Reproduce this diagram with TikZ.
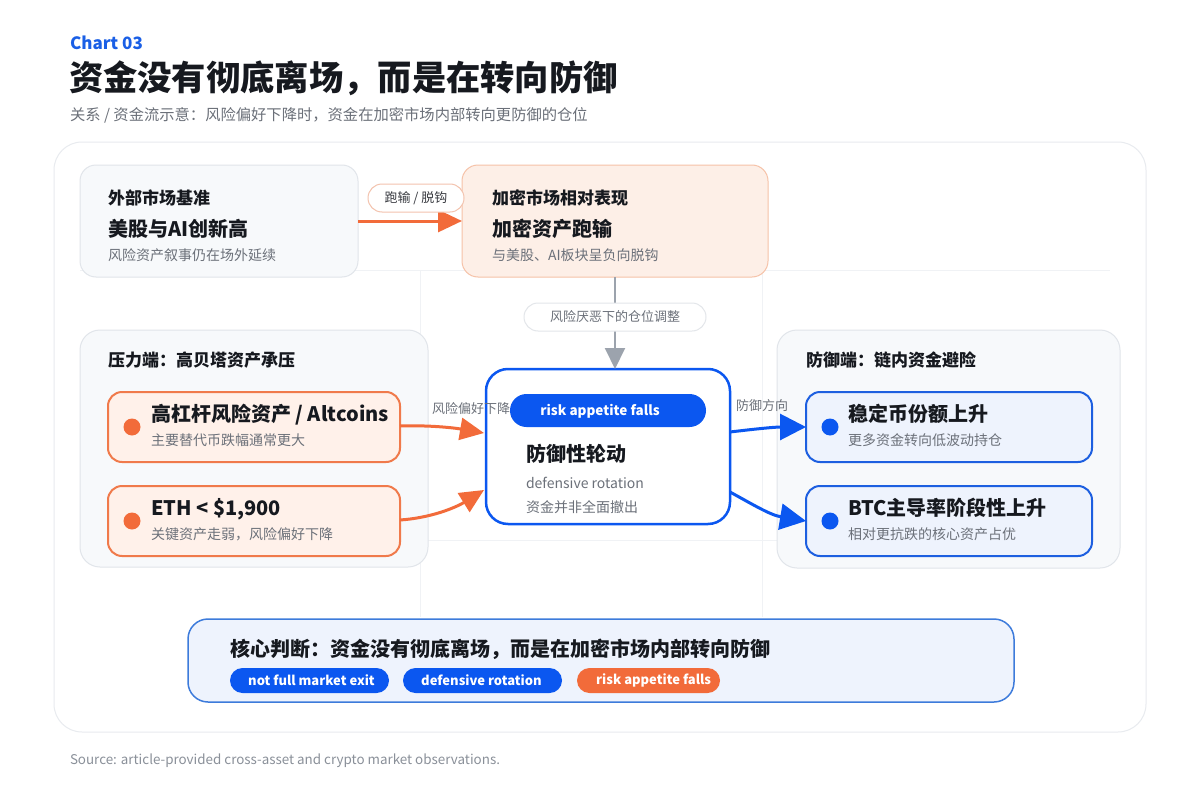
\documentclass[tikz,border=0pt]{standalone}
\usepackage{fontspec}
\setmainfont{Noto Sans CJK SC}
\usetikzlibrary{arrows.meta,calc}
\newcommand{\fz}[1]{\fontsize{#1}{#1}\selectfont}
\definecolor{cblue}{HTML}{0B57F0}
\definecolor{chartblue}{HTML}{1A5FE6}
\definecolor{corange}{HTML}{F26B3A}
\definecolor{cdark}{HTML}{16191F}
\definecolor{cgray}{HTML}{6B7079}
\definecolor{csrc}{HTML}{8A9099}
\definecolor{panelfill}{HTML}{F7F9FB}
\definecolor{panelborder}{HTML}{E1E5EA}
\definecolor{outerborder}{HTML}{E8EBEF}
\definecolor{ofill}{HTML}{FFF1EA}
\definecolor{oborder}{HTML}{F07A4B}
\definecolor{trfill}{HTML}{FDEFE7}
\definecolor{trborder}{HTML}{F6C2A8}
\definecolor{bfill}{HTML}{EEF3FD}
\definecolor{bborder}{HTML}{1D5FE0}
\definecolor{botborder}{HTML}{3D7BDB}
\definecolor{agray}{HTML}{9CA3AD}
\definecolor{pillgray}{HTML}{E3E6EA}
\definecolor{pillorange}{HTML}{F3C3AE}
\definecolor{gridc}{HTML}{F0F2F5}
\begin{document}
\begin{tikzpicture}[x=1pt,y=-1pt,
  box/.style={inner sep=0pt, outer sep=0pt, anchor=north west},
  grp/.style={box, draw=panelborder, fill=panelfill, line width=1pt, rounded corners=20pt},
  obox/.style={box, draw=oborder, fill=ofill, line width=2pt, rounded corners=14pt},
  bbox/.style={box, draw=bborder, fill=bfill, line width=2pt, rounded corners=14pt},
  txt/.style={inner sep=0pt, outer sep=0pt, anchor=base west},
  hdr/.style={txt, font=\fz{17}\bfseries, text=cdark},
  ttl/.style={txt, font=\fz{20}\bfseries, text=cdark},
  sub/.style={txt, font=\fz{14}, text=cgray},
  lbl/.style={txt, font=\fz{13}, text=cgray},
  odot/.style={circle, fill=corange, minimum size=17pt, inner sep=0pt},
  bdot/.style={circle, fill=cblue, minimum size=17pt, inner sep=0pt},
  oarrow/.style={draw=corange, line width=3pt, -{Triangle[length=24pt,width=22pt]}},
  barrow/.style={draw=cblue, line width=3pt, -{Triangle[length=26pt,width=26pt]}},
  garrow/.style={draw=agray, line width=2pt, -{Triangle[length=21pt,width=20pt]}},
  tagpill/.style={box, rounded corners=12.5pt, minimum height=25pt},
]
\useasboundingbox (0,0) rectangle (1200,800);
\fill[white] (0,0) rectangle (1200,800);

% header
\node[txt, font=\fz{17}\bfseries, text=chartblue] (chart) at (70,50) {Chart 03};
\node[txt, font=\fz{34.3}\bfseries, text=cdark] (title) at (69,90.6) {资金没有彻底离场，而是在转向防御};
\node[txt, font=\fz{15.3}, text=cgray] (subtitle) at (70,120.6) {关系 / 资金流示意：风险偏好下降时，资金在加密市场内部转向更防御的仓位};

% outer panel
\node[box, draw=outerborder, fill=white, line width=1pt, rounded corners=28pt, minimum width=1092pt, minimum height=590pt] (outer) at (54,142) {};

% faint grid
\draw[gridc, line width=1pt] (80,270) -- (1110,270);
\draw[gridc, line width=1pt] (420,540) -- (780,540);
\draw[gridc, line width=1pt] (420,270) -- (420,617);
\draw[gridc, line width=1pt] (762,270) -- (762,617);

% top boxes
\node[box, draw=panelborder, fill=panelfill, line width=1pt, rounded corners=16pt, minimum width=278pt, minimum height=112pt] (ext) at (80,165) {};
\node[hdr] (exth) at (108,204.3) {外部市场基准};
\node[ttl] (extt) at (108,236.4) {美股与AI创新高};
\node[sub] (exts) at (108,260.2) {风险资产叙事仍在场外延续};

\node[box, draw=trborder, fill=trfill, line width=1pt, rounded corners=16pt, minimum width=306pt, minimum height=112pt] (cry) at (462,165) {};
\node[hdr] (cryh) at (492,204.3) {加密市场相对表现};
\node[ttl] (cryt) at (492,236.4) {加密资产跑输};
\node[sub] (crys) at (492,260.2) {与美股、AI板块呈负向脱钩};

\draw[oarrow] (ext.east |- 0,221) -- (cry.west |- 0,221);
\node[box, draw=pillorange, fill=white, line width=1pt, rounded corners=14pt, minimum width=96pt, minimum height=28pt] (pillA) at (368,184) {};
\node[font=\fz{13}, text=cdark!85, inner sep=0pt] (pillAt) at (pillA.center) {跑输 / 脱钩};

% left group
\node[grp, minimum width=348pt, minimum height=237pt] (left) at (80,330) {};
\node[hdr] (lefth) at (108,366.3) {压力端：高贝塔资产承压};
\node[obox, minimum width=292pt, minimum height=70pt] (alt) at (108,392) {};
\node[odot] (altd) at (132,427) {};
\node[ttl] (altt) at (151,421.4) {高杠杆风险资产 / Altcoins};
\node[sub] (alts) at (151,445.7) {主要替代币跌幅通常更大};
\node[obox, minimum width=292pt, minimum height=70pt] (eth) at (108,486) {};
\node[odot] (ethd) at (132,521) {};
\node[ttl] (etht) at (151,515.4) {ETH < \$1,900};
\node[sub] (eths) at (151,539.2) {关键资产走弱，风险偏好下降};

% right group
\node[grp, minimum width=343pt, minimum height=238pt] (right) at (777,330) {};
\node[hdr] (righth) at (806,366.3) {防御端：链内资金避险};
\node[bbox, minimum width=286pt, minimum height=70pt] (stab) at (806,392) {};
\node[bdot] (stabd) at (830,427) {};
\node[ttl] (stabt) at (848,421.4) {稳定币份额上升};
\node[sub] (stabs) at (848,445.7) {更多资金转向低波动持仓};
\node[bbox, minimum width=286pt, minimum height=70pt] (btc) at (806,486) {};
\node[bdot] (btcd) at (830,521) {};
\node[ttl] (btct) at (848,515.4) {BTC主导率阶段性上升};
\node[sub] (btcs) at (848,539.2) {相对更抗跌的核心资产占优};

% center box
\node[box, draw=cblue, fill=white, line width=2.5pt, rounded corners=22pt, minimum width=244pt, minimum height=155pt] (core) at (486,369) {};
\node[lbl] (riskl) at (432,413.8) {风险偏好下降};
\node[box, fill=cblue, rounded corners=16.5pt, minimum width=196pt, minimum height=33pt] (pillR) at (510,394) {};
\node[font=\fz{13.5}\bfseries, text=white, inner sep=0pt] (pillRt) at (600,411) {risk appetite falls};
\node[ttl] (coret) at (526,461.4) {防御性轮动};
\node[sub] (cores1) at (526,488) {defensive rotation};
\node[sub] (cores2) at (526,512.2) {资金并非全面撤出};

% gray arrow from crypto box to core
\draw[garrow] (cry.south -| 615,0) -- (core.north -| 615,0);
\node[box, draw=pillgray, fill=white, line width=1pt, rounded corners=14pt, minimum width=182pt, minimum height=28pt] (pillB) at (524,303) {};
\node[font=\fz{13}, text=cgray, inner sep=0pt] (pillBt) at (pillB.center) {风险厌恶下的仓位调整};

% orange arrows into core
\coordinate (o1) at (484,433);
\coordinate (o2) at (484,490);
\draw[oarrow] (alt.east |- 0,426) .. controls (430,425) and (455,428) .. (o1);
\draw[oarrow] (eth.east |- 0,520) .. controls (430,518) and (455,508) .. (o2);

% blue arrows out of core
\node[lbl] (defl) at (736,410.5) {防御方向};
\coordinate (b1) at (730,432);
\coordinate (b2) at (730,492);
\draw[barrow] (b1) .. controls (755,429) and (775,427) .. (stab.west |- 0,427);
\draw[barrow] (b2) .. controls (752,504) and (770,515) .. (btc.west |- 0,521);

% bottom summary
\node[box, draw=botborder, fill=bfill, line width=1.5pt, rounded corners=20pt, minimum width=826pt, minimum height=83pt] (sum) at (188,619) {};
\node[txt, font=\fz{20}\bfseries, text=cdark] (sumt) at (230,656.5) {核心判断：资金没有彻底离场，而是在加密市场内部转向防御};
\node[tagpill, fill=cblue, minimum width=159pt] (t1) at (230,668) {};
\node[anchor=west, inner sep=0pt, font=\fz{13}\bfseries, text=white] (t1t) at (248,680.5) {not full market exit};
\node[tagpill, fill=cblue, minimum width=159pt] (t2) at (403,668) {};
\node[anchor=west, inner sep=0pt, font=\fz{13}\bfseries, text=white] (t2t) at (421,680.5) {defensive rotation};
\node[tagpill, fill=corange, minimum width=143pt] (t3) at (577,668) {};
\node[anchor=west, inner sep=0pt, font=\fz{13}\bfseries, text=white] (t3t) at (596,680.5) {risk appetite falls};

% source
\node[txt, font=\fz{13.4}, text=csrc] (src) at (70,764.7) {Source: article-provided cross-asset and crypto market observations.};
\end{tikzpicture}
\end{document}
